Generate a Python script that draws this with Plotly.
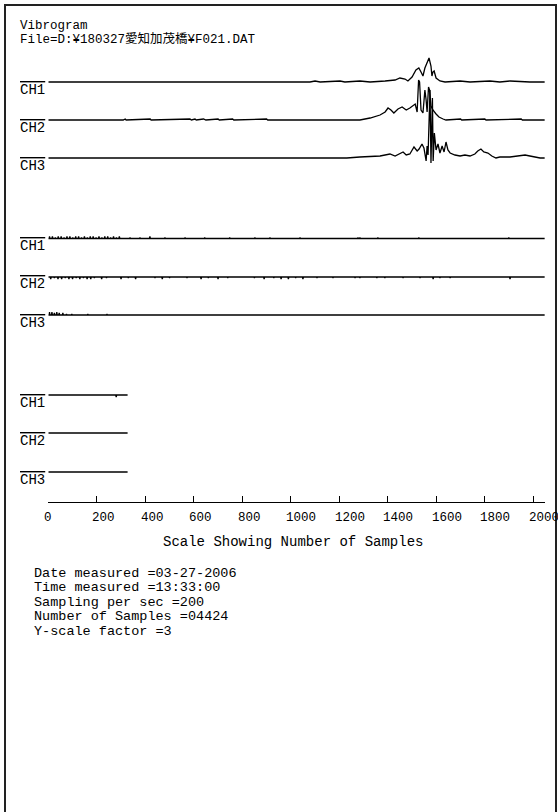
import plotly.graph_objects as go

# ---------------- data ----------------
ROW_LEN = [2048, 2048, 328]          # samples per row (2048 + 2048 + 328 = 4424)
CHANNELS = ["CH1", "CH2", "CH3"]

# Row 1 (samples 0-2047): breakpoints (sample index, amplitude)
r1_ch1_s = [0, 1079, 1100, 1121, 1203, 1223, 1285, 1327, 1389, 1430, 1450, 1471, 1483, 1500, 1516, 1528, 1537, 1545,
            1553, 1562, 1570, 1578, 1582, 1586, 1591, 1599, 1607, 1615, 1636, 1698, 1739, 1821, 1862, 1904, 1986, 2047]
r1_ch1_a = [0, 0, 1, 0, 1, 0, 1, 0, 1, 2, 4, 3, 1, 5, 12, 14, 10, 6,
            14, 20, 24, 16, 6, 10, 11, 4, 2, 1, 0, 1, 0, 1, 0, 1, 0, 0]

r1_ch2_s = [0, 309, 317, 321, 420, 424, 584, 590, 605, 610, 640, 650, 700, 705, 760, 765, 900, 905, 1285, 1327,
            1368, 1389, 1401, 1413, 1425, 1442, 1459, 1476, 1491, 1504, 1513, 1521, 1527, 1531, 1537, 1545, 1553, 1558,
            1562, 1568, 1572, 1578, 1586, 1599, 1611, 1628, 1640, 1700, 1705, 1800, 1805, 1950, 1955, 2047]
r1_ch2_a = [0, 0, 1, 0, 1, 0, 1, 0, 1, 0, 1, 0, 1, 0, 1, 0, 1, 0, 0, 2,
            5, 8, 12, 10, 7, 11, 13, 10, 12, 14, 16, 8, 40, 38, 10, 7, 30, 20,
            8, 33, 30, 14, 10, 6, 3, 1, 0, 1, 0, 1, 0, 1, 0, 0]

r1_ch3_s = [0, 1231, 1285, 1368, 1409, 1430, 1463, 1476, 1491, 1508, 1521, 1529, 1541, 1549, 1558, 1562, 1566, 1574,
            1578, 1584, 1587, 1592, 1599, 1607, 1615, 1624, 1632, 1640, 1648, 1657, 1677, 1698, 1718, 1739, 1759, 1771,
            1784, 1796, 1813, 1829, 1846, 1862, 1904, 1945, 1966, 1986, 2007, 2028, 2047]
r1_ch3_a = [0, 0, 1, 2, 4, 2, 6, 3, 4, 11, 7, 9, 14, 10, -3, 12, 3, 68,
            -5, 60, -3, 25, 8, 14, 5, 12, 6, 16, 8, 5, 3, 2, 3, 2, 4, 7,
            9, 6, 5, 2, 0, 1, 1, 2, 3, 2, 1, 0, 0]

# Rows 2 and 3: nearly flat, small isolated blips (sample index, amplitude)
r2_ch1_blip_s = [5, 17, 29, 41, 53, 65, 77, 89, 101, 113, 125, 137, 149, 161, 173, 185, 197, 209, 221, 233, 245, 257,
                 269, 281, 293, 337, 378, 419, 481, 564, 645, 748, 852, 914, 1038, 1277, 1285, 1359, 1528, 1899]
r2_ch1_blip_a = [2, 2, 1, 2, 2, 1, 2, 2, 1, 2, 2, 1, 2, 1, 2, 2, 1, 2, 1, 2, 2, 1,
                 2, 1, 2, 1, 1, 2, 1, 1, 1, 1, 1, 1, 1, 1, 1, 1, 1, 1]
r2_ch2_blip_s = [10, 25, 40, 55, 70, 85, 100, 115, 130, 145, 160, 175, 190, 220, 240, 300, 330, 360, 440, 470, 500,
                 572, 630, 660, 700, 740, 850, 890, 930, 960, 990, 1020, 1050, 1108, 1174, 1265, 1285, 1355, 1388,
                 1463, 1533, 1587, 1615, 1657, 1904]
r2_ch2_blip_a = [-2, -1, -2, -2, -1, -2, -2, -1, -2, -1, -2, -2, -1, -2, -1, -2, -1, -2, -1, -2, -1,
                 -1, -2, -1, -2, -1, -1, -2, -1, -2, -2, -1, -2, -1, -1, -1, -1, -1, -1,
                 -1, -1, -2, -1, -1, -2]
r2_ch3_blip_s = [5, 15, 25, 35, 45, 60, 75, 97, 163, 242]
r2_ch3_blip_a = [3, 3, 2, 3, 2, 2, 1, 1, 1, 1]
r3_ch1_blip_s = [280]
r3_ch1_blip_a = [-2]
r3_ch2_blip_s = []
r3_ch2_blip_a = []
r3_ch3_blip_s = []
r3_ch3_blip_a = []

TICK_VALUES = [0, 200, 400, 600, 800, 1000, 1200, 1400, 1600, 1800, 2000]
TICK_LABELS = ["0", "200", "400", "600", "800", "1000", "1200", "1400", "1600", "1800", "2000"]

HEADER = ["Vibrogram", "File=D:¥180327愛知加茂橋¥F021.DAT"]
X_TITLE = "Scale Showing Number of Samples"
INFO = ["Date measured =03-27-2006", "Time measured =13:33:00", "Sampling per sec =200",
        "Number of Samples =04424", "Y-scale factor =3"]

# ---------------- layout constants (pixels) ----------------
W, H = 558, 812
FONT = "Liberation Mono, Noto Sans CJK JP, monospace"
X0_PX, PX_PER_SAMPLE = 48.3, 0.2425
BASELINES = [[82, 120, 158], [238.5, 277, 315], [395, 433, 472]]
AXIS_PX = 502
SPAN_UP, SPAN_DN = 78, 12


def py(p):
    return 1 - p / H


def px(p):
    return p / W


def blips(s_list, a_list, n):
    xs, ys = [0], [0]
    for s, a in zip(s_list, a_list):
        xs += [max(s - 2, 0), s, s + 2]
        ys += [0, a, 0]
    xs.append(n - 1)
    ys.append(0)
    return xs, ys


rows = [
    [(r1_ch1_s, r1_ch1_a), (r1_ch2_s, r1_ch2_a), (r1_ch3_s, r1_ch3_a)],
    [blips(r2_ch1_blip_s, r2_ch1_blip_a, ROW_LEN[1]), blips(r2_ch2_blip_s, r2_ch2_blip_a, ROW_LEN[1]),
     blips(r2_ch3_blip_s, r2_ch3_blip_a, ROW_LEN[1])],
    [blips(r3_ch1_blip_s, r3_ch1_blip_a, ROW_LEN[2]), blips(r3_ch2_blip_s, r3_ch2_blip_a, ROW_LEN[2]),
     blips(r3_ch3_blip_s, r3_ch3_blip_a, ROW_LEN[2])],
]

fig = go.Figure()
layout = {}
annotations = []
k = 0
for r, row in enumerate(rows):
    for c, (xs, ys) in enumerate(row):
        k += 1
        yname = "y" if k == 1 else f"y{k}"
        lname = "yaxis" if k == 1 else f"yaxis{k}"
        fig.add_trace(go.Scatter(x=xs, y=ys, mode="lines", xaxis="x", yaxis=yname,
                                 line=dict(color="black", width=1.3), hoverinfo="skip",
                                 showlegend=False, name=f"Row{r + 1} {CHANNELS[c]}"))
        b = BASELINES[r][c]
        layout[lname] = dict(domain=[py(b + SPAN_DN), py(b - SPAN_UP)], range=[-SPAN_DN, SPAN_UP],
                             visible=False, fixedrange=True, anchor="free", position=0)
        annotations.append(dict(text=CHANNELS[c], xref="paper", yref="paper", x=px(18), y=py(b + 7.5),
                                xanchor="left", yanchor="middle", showarrow=False,
                                font=dict(family=FONT, size=14, color="black", lineposition="over")))

x_end = X0_PX + PX_PER_SAMPLE * ROW_LEN[0]
layout["xaxis"] = dict(domain=[px(X0_PX), px(x_end)], range=[0, ROW_LEN[0]], anchor="free",
                       position=py(AXIS_PX), showline=True, linecolor="black", linewidth=1.3,
                       ticks="inside", ticklen=6, tickwidth=1.3, tickcolor="black",
                       tickvals=TICK_VALUES, showticklabels=False, showgrid=False, zeroline=False,
                       fixedrange=True)

for v, t in zip(TICK_VALUES, TICK_LABELS):
    annotations.append(dict(text=t, xref="x", yref="paper", x=v, y=py(517.5), xanchor="left",
                            yanchor="middle", xshift=-6.5, showarrow=False,
                            font=dict(family=FONT, size=12.5, color="black")))

annotations.append(dict(text=X_TITLE, xref="paper", yref="paper", x=px(293), y=py(542),
                        xanchor="center", yanchor="middle", showarrow=False,
                        font=dict(family=FONT, size=14, color="black")))

for i, t in enumerate(HEADER):
    annotations.append(dict(text=t, xref="paper", yref="paper", x=px(18), y=py(25.5 + 13.5 * i),
                            xanchor="left", yanchor="middle", showarrow=False,
                            font=dict(family=FONT, size=12.5, color="black")))

for i, t in enumerate(INFO):
    annotations.append(dict(text=t, xref="paper", yref="paper", x=px(32), y=py(573 + 14.5 * i),
                            xanchor="left", yanchor="middle", showarrow=False,
                            font=dict(family=FONT, size=13.5, color="black")))

shapes = [dict(type="rect", xref="paper", yref="paper", x0=px(5), x1=px(556), y0=py(5), y1=py(830),
               line=dict(color="#222222", width=2), fillcolor="rgba(0,0,0,0)")]

fig.update_layout(width=W, height=H, margin=dict(l=0, r=0, t=0, b=0), paper_bgcolor="white",
                  plot_bgcolor="rgba(0,0,0,0)", annotations=annotations, shapes=shapes,
                  showlegend=False, **layout)

fig.write_html("out.html", config={"displayModeBar": False},
               post_script="document.body.style.margin='0';document.body.style.padding='0';")
